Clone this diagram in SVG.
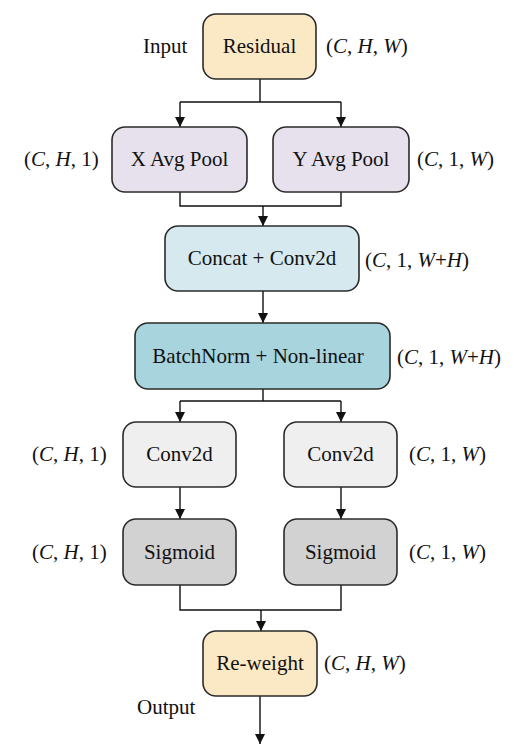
<svg xmlns="http://www.w3.org/2000/svg" width="514" height="754" viewBox="0 0 514 754">
<style>
.box{stroke:#2b2b2b;stroke-width:1.6}
.t{font-family:"Liberation Serif","Times New Roman",serif;font-size:21px;fill:#111}
.c{text-anchor:middle}
.ln{fill:none;stroke:#111;stroke-width:1.4}
</style>
<defs>
<marker id="ah" viewBox="0 0 10 10" refX="10" refY="5" markerWidth="10" markerHeight="10" markerUnits="userSpaceOnUse" orient="auto">
<path d="M0,0 L10,5 L0,10 Z" fill="#111"/>
</marker>
</defs>
<rect width="514" height="754" fill="#fff"/>
<g id="connectors">
<path class="ln" d="M260,79 V102 M180,102 H341"/>
<path class="ln" d="M180,102 V127" marker-end="url(#ah)"/>
<path class="ln" d="M341,102 V127" marker-end="url(#ah)"/>
<path class="ln" d="M180,192 V206 H341 V192"/>
<path class="ln" d="M263,206 V226" marker-end="url(#ah)"/>
<path class="ln" d="M263,291 V323" marker-end="url(#ah)"/>
<path class="ln" d="M263,389 V401 M180,401 H341"/>
<path class="ln" d="M180,401 V422" marker-end="url(#ah)"/>
<path class="ln" d="M341,401 V422" marker-end="url(#ah)"/>
<path class="ln" d="M180,487 V519" marker-end="url(#ah)"/>
<path class="ln" d="M341,487 V519" marker-end="url(#ah)"/>
<path class="ln" d="M180,585 V610 H341 V585"/>
<path class="ln" d="M261,610 V631" marker-end="url(#ah)"/>
<path class="ln" d="M260,696 V744" marker-end="url(#ah)"/>
</g>
<g id="residual">
<rect class="box" x="203" y="14" width="113" height="65" rx="13" fill="#FBE9C6"/>
<text class="t c" x="259.5" y="53">Residual</text>
<text class="t" x="143" y="53">Input</text>
<text class="t" x="326" y="53">(<tspan font-style="italic">C</tspan>, <tspan font-style="italic">H</tspan>, <tspan font-style="italic">W</tspan>)</text>
</g>
<g id="xpool">
<rect class="box" x="112" y="127" width="135" height="65" rx="13" fill="#E6E1EC"/>
<text class="t c" x="179.5" y="166">X Avg Pool</text>
<text class="t" x="24" y="166">(<tspan font-style="italic">C</tspan>, <tspan font-style="italic">H</tspan>, 1)</text>
</g>
<g id="ypool">
<rect class="box" x="273" y="127" width="136" height="65" rx="13" fill="#E6E1EC"/>
<text class="t c" x="341" y="166">Y Avg Pool</text>
<text class="t" x="417" y="166">(<tspan font-style="italic">C</tspan>, 1, <tspan font-style="italic">W</tspan>)</text>
</g>
<g id="concat">
<rect class="box" x="165" y="226" width="194" height="65" rx="13" fill="#D5E9EE"/>
<text class="t c" x="262" y="265">Concat + Conv2d</text>
<text class="t" x="365" y="267">(<tspan font-style="italic">C</tspan>, 1, <tspan font-style="italic">W</tspan>+<tspan font-style="italic">H</tspan>)</text>
</g>
<g id="batchnorm">
<rect class="box" x="135" y="323" width="255" height="66" rx="13" fill="#A8D4DE"/>
<text class="t c" x="258" y="363">BatchNorm + Non-linear</text>
<text class="t" x="397" y="364">(<tspan font-style="italic">C</tspan>, 1, <tspan font-style="italic">W</tspan>+<tspan font-style="italic">H</tspan>)</text>
</g>
<g id="conv-left">
<rect class="box" x="123" y="422" width="113" height="65" rx="13" fill="#EFEFEF"/>
<text class="t c" x="179.5" y="461">Conv2d</text>
<text class="t" x="32" y="461">(<tspan font-style="italic">C</tspan>, <tspan font-style="italic">H</tspan>, 1)</text>
</g>
<g id="conv-right">
<rect class="box" x="284" y="422" width="113" height="65" rx="13" fill="#EFEFEF"/>
<text class="t c" x="340.5" y="461">Conv2d</text>
<text class="t" x="409" y="461">(<tspan font-style="italic">C</tspan>, 1, <tspan font-style="italic">W</tspan>)</text>
</g>
<g id="sigmoid-left">
<rect class="box" x="123" y="519" width="113" height="66" rx="13" fill="#D2D2D2"/>
<text class="t c" x="179.5" y="559">Sigmoid</text>
<text class="t" x="32" y="559">(<tspan font-style="italic">C</tspan>, <tspan font-style="italic">H</tspan>, 1)</text>
</g>
<g id="sigmoid-right">
<rect class="box" x="284" y="519" width="113" height="66" rx="13" fill="#D2D2D2"/>
<text class="t c" x="340.5" y="559">Sigmoid</text>
<text class="t" x="409" y="559">(<tspan font-style="italic">C</tspan>, 1, <tspan font-style="italic">W</tspan>)</text>
</g>
<g id="reweight">
<rect class="box" x="203" y="631" width="114" height="65" rx="13" fill="#FBE9C6"/>
<text class="t c" x="260" y="670">Re-weight</text>
<text class="t" x="324" y="670">(<tspan font-style="italic">C</tspan>, <tspan font-style="italic">H</tspan>, <tspan font-style="italic">W</tspan>)</text>
<text class="t" x="137" y="714">Output</text>
</g>
</svg>
